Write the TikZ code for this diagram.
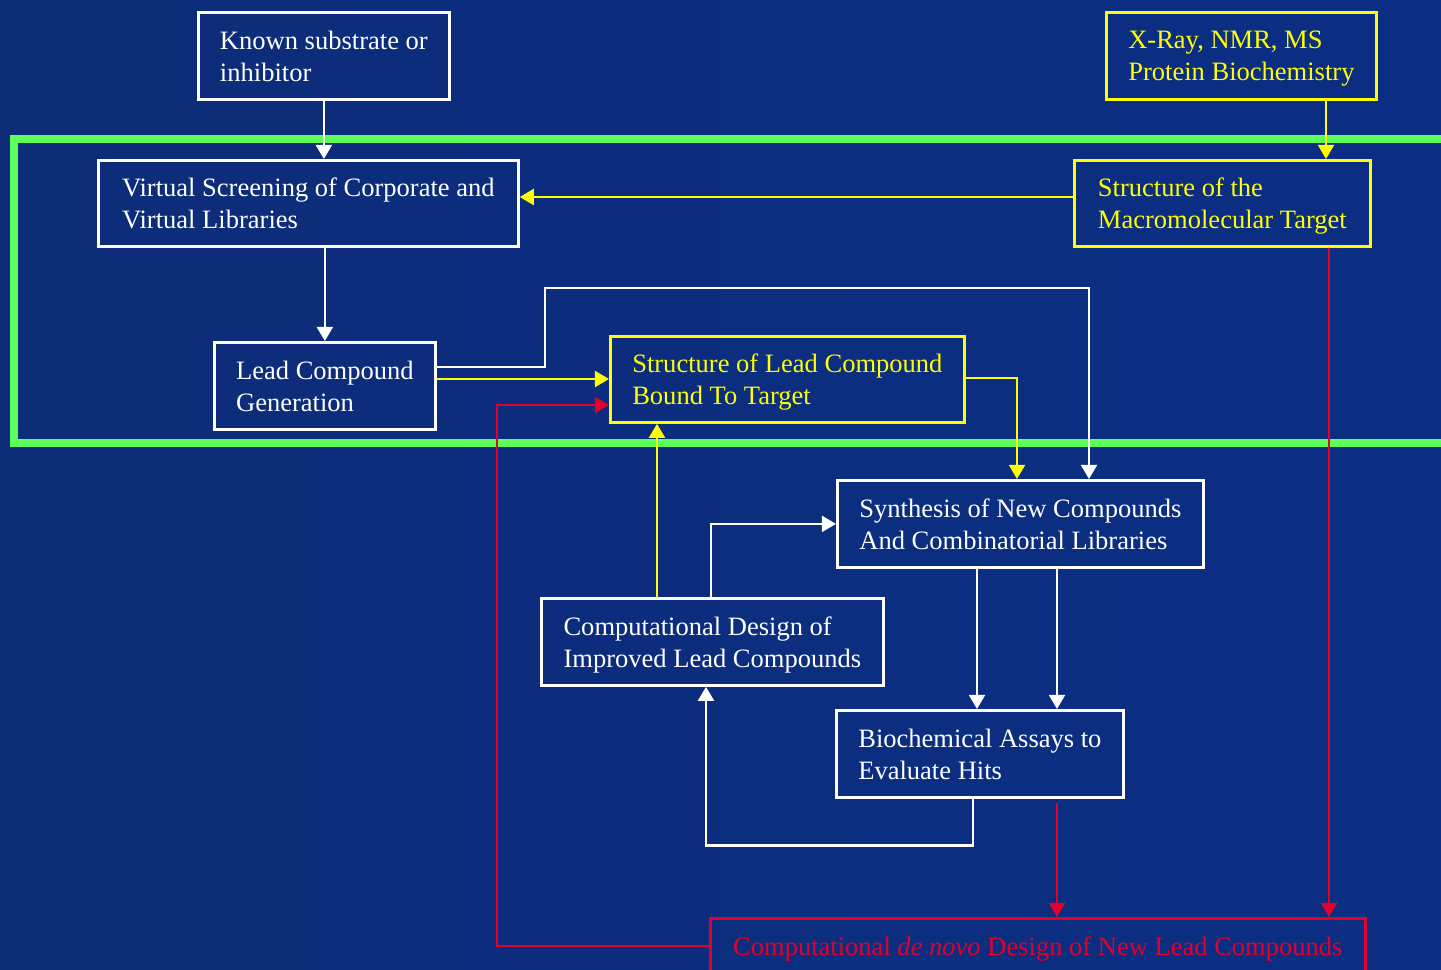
\documentclass[tikz,border=0pt]{standalone}
\usepackage{fontspec}
\setmainfont{Liberation Serif}
\usepackage{tikz}
\usetikzlibrary{arrows.meta, calc}
\usepackage{xcolor}
\definecolor{SlideBlueA}{HTML}{0D2D79}
\definecolor{SlideBlueB}{HTML}{05216C}
\definecolor{SlideBlueC}{HTML}{0B2E84}
\definecolor{SlideWhite}{HTML}{FFFFFF}
\definecolor{SlideYellow}{HTML}{FFFF00}
\definecolor{SlideRed}{HTML}{E3002A}
\definecolor{SlideGreen}{HTML}{5CFF5C}
\tikzset{
    % Node styles - plain boxes, text set left
    stepbox/.style={
        rectangle,
        draw=#1,
        text=#1,
        line width=1.6pt,
        anchor=north west,
        align=left,
        inner sep=0pt,
        text depth=0pt,
        minimum height=1.74cm,
        font=\fontsize{15.1pt}{18.1pt}\selectfont
    },
    stepbox/.default=SlideWhite,
    % Arrow styles
    wire/.style={
        -{Triangle[length=8pt,width=9pt]},
        line width=1.5pt,
        SlideWhite
    },
    ywire/.style={
        wire,
        SlideYellow
    },
    rwire/.style={
        wire,
        SlideRed,
        line width=1.6pt
    },
    % Frame round the structure-based steps
    stageframe/.style={
        draw=SlideGreen,
        line width=4pt
    }
}

\begin{document}
\begin{tikzpicture}[x=0.02cm, y=-0.02cm]
    % Background
    \shade[left color=SlideBlueA, middle color=SlideBlueB, right color=SlideBlueC] (0,0) rectangle (1441,970);
    \useasboundingbox (0,0) rectangle (1441,970);

    % Frame
    \draw[stageframe] (14,139) rectangle (1480,443);

    % Boxes
    \node[stepbox, minimum width=5.02cm] (known) at (197,11) {Known substrate or\\inhibitor};
    \node[stepbox=SlideYellow, minimum width=5.40cm] (xray) at (1105,11) {X-Ray, NMR, MS\\Protein Biochemistry};
    \node[stepbox, minimum width=8.40cm, minimum height=1.72cm] (virtual) at (97,159) {Virtual Screening of Corporate and\\Virtual Libraries};
    \node[stepbox=SlideYellow, minimum width=5.92cm, minimum height=1.72cm] (target) at (1073,159) {Structure of the\\Macromolecular Target};
    \node[stepbox, minimum width=4.42cm] (lead) at (213,341) {Lead Compound\\Generation};
    \node[stepbox=SlideYellow, minimum width=7.08cm, minimum height=1.72cm] (leadbound) at (609,335) {Structure of Lead Compound\\Bound To Target};
    \node[stepbox, minimum width=7.32cm] (synth) at (836,479) {Synthesis of New Compounds\\And Combinatorial Libraries};
    \node[stepbox, minimum width=6.84cm] (improved) at (540,597) {Computational Design of\\Improved Lead Compounds};
    \node[stepbox, minimum width=5.74cm] (assays) at (835,709) {Biochemical Assays to\\Evaluate Hits};
    \node[stepbox=SlideRed, minimum width=13.10cm, minimum height=1.1cm] (denovo) at (709,917) {Computational \textit{de novo} Design of New Lead Compounds};

    % Connectors
    \draw[wire] (known.south) -- (known.south |- virtual.north);
    \draw[ywire] (xray.south -| 1326,0) -- (target.north -| 1326,0);
    \draw[ywire] (target.west |- 0,197) -- (virtual.east |- 0,197);
    \draw[wire] (virtual.south -| lead.north) -- (lead.north);
    \draw[wire] (lead.east |- 0,367) -| (545,288) -| (synth.north -| 1089,0);
    \draw[ywire] (lead.east |- 0,379) -- (leadbound.west |- 0,379);
    \draw[ywire] (leadbound.east |- 0,378) -| (synth.north -| 1017,0);
    \draw[ywire] (improved.north -| 657,0) -- (leadbound.south -| 657,0);
    \draw[wire] (improved.north -| 711,0) |- (synth.west);
    \draw[wire] (synth.south -| 977,0) -- (assays.north -| 977,0);
    \draw[wire] (synth.south -| 1057,0) -- (assays.north -| 1057,0);
    \draw[wire] (assays.south -| 973,0) -- ++(0,47) -| (improved.south -| 706,0);
    \draw[rwire] ($(assays.south -| 1057,0)+(0,4)$) -- (denovo.north -| 1057,0);
    \draw[rwire] (target.south -| 1329,0) -- (denovo.north -| 1329,0);
    \draw[rwire] (denovo.west) -| (497,405) -- (leadbound.west |- 0,405);
\end{tikzpicture}
\end{document}
